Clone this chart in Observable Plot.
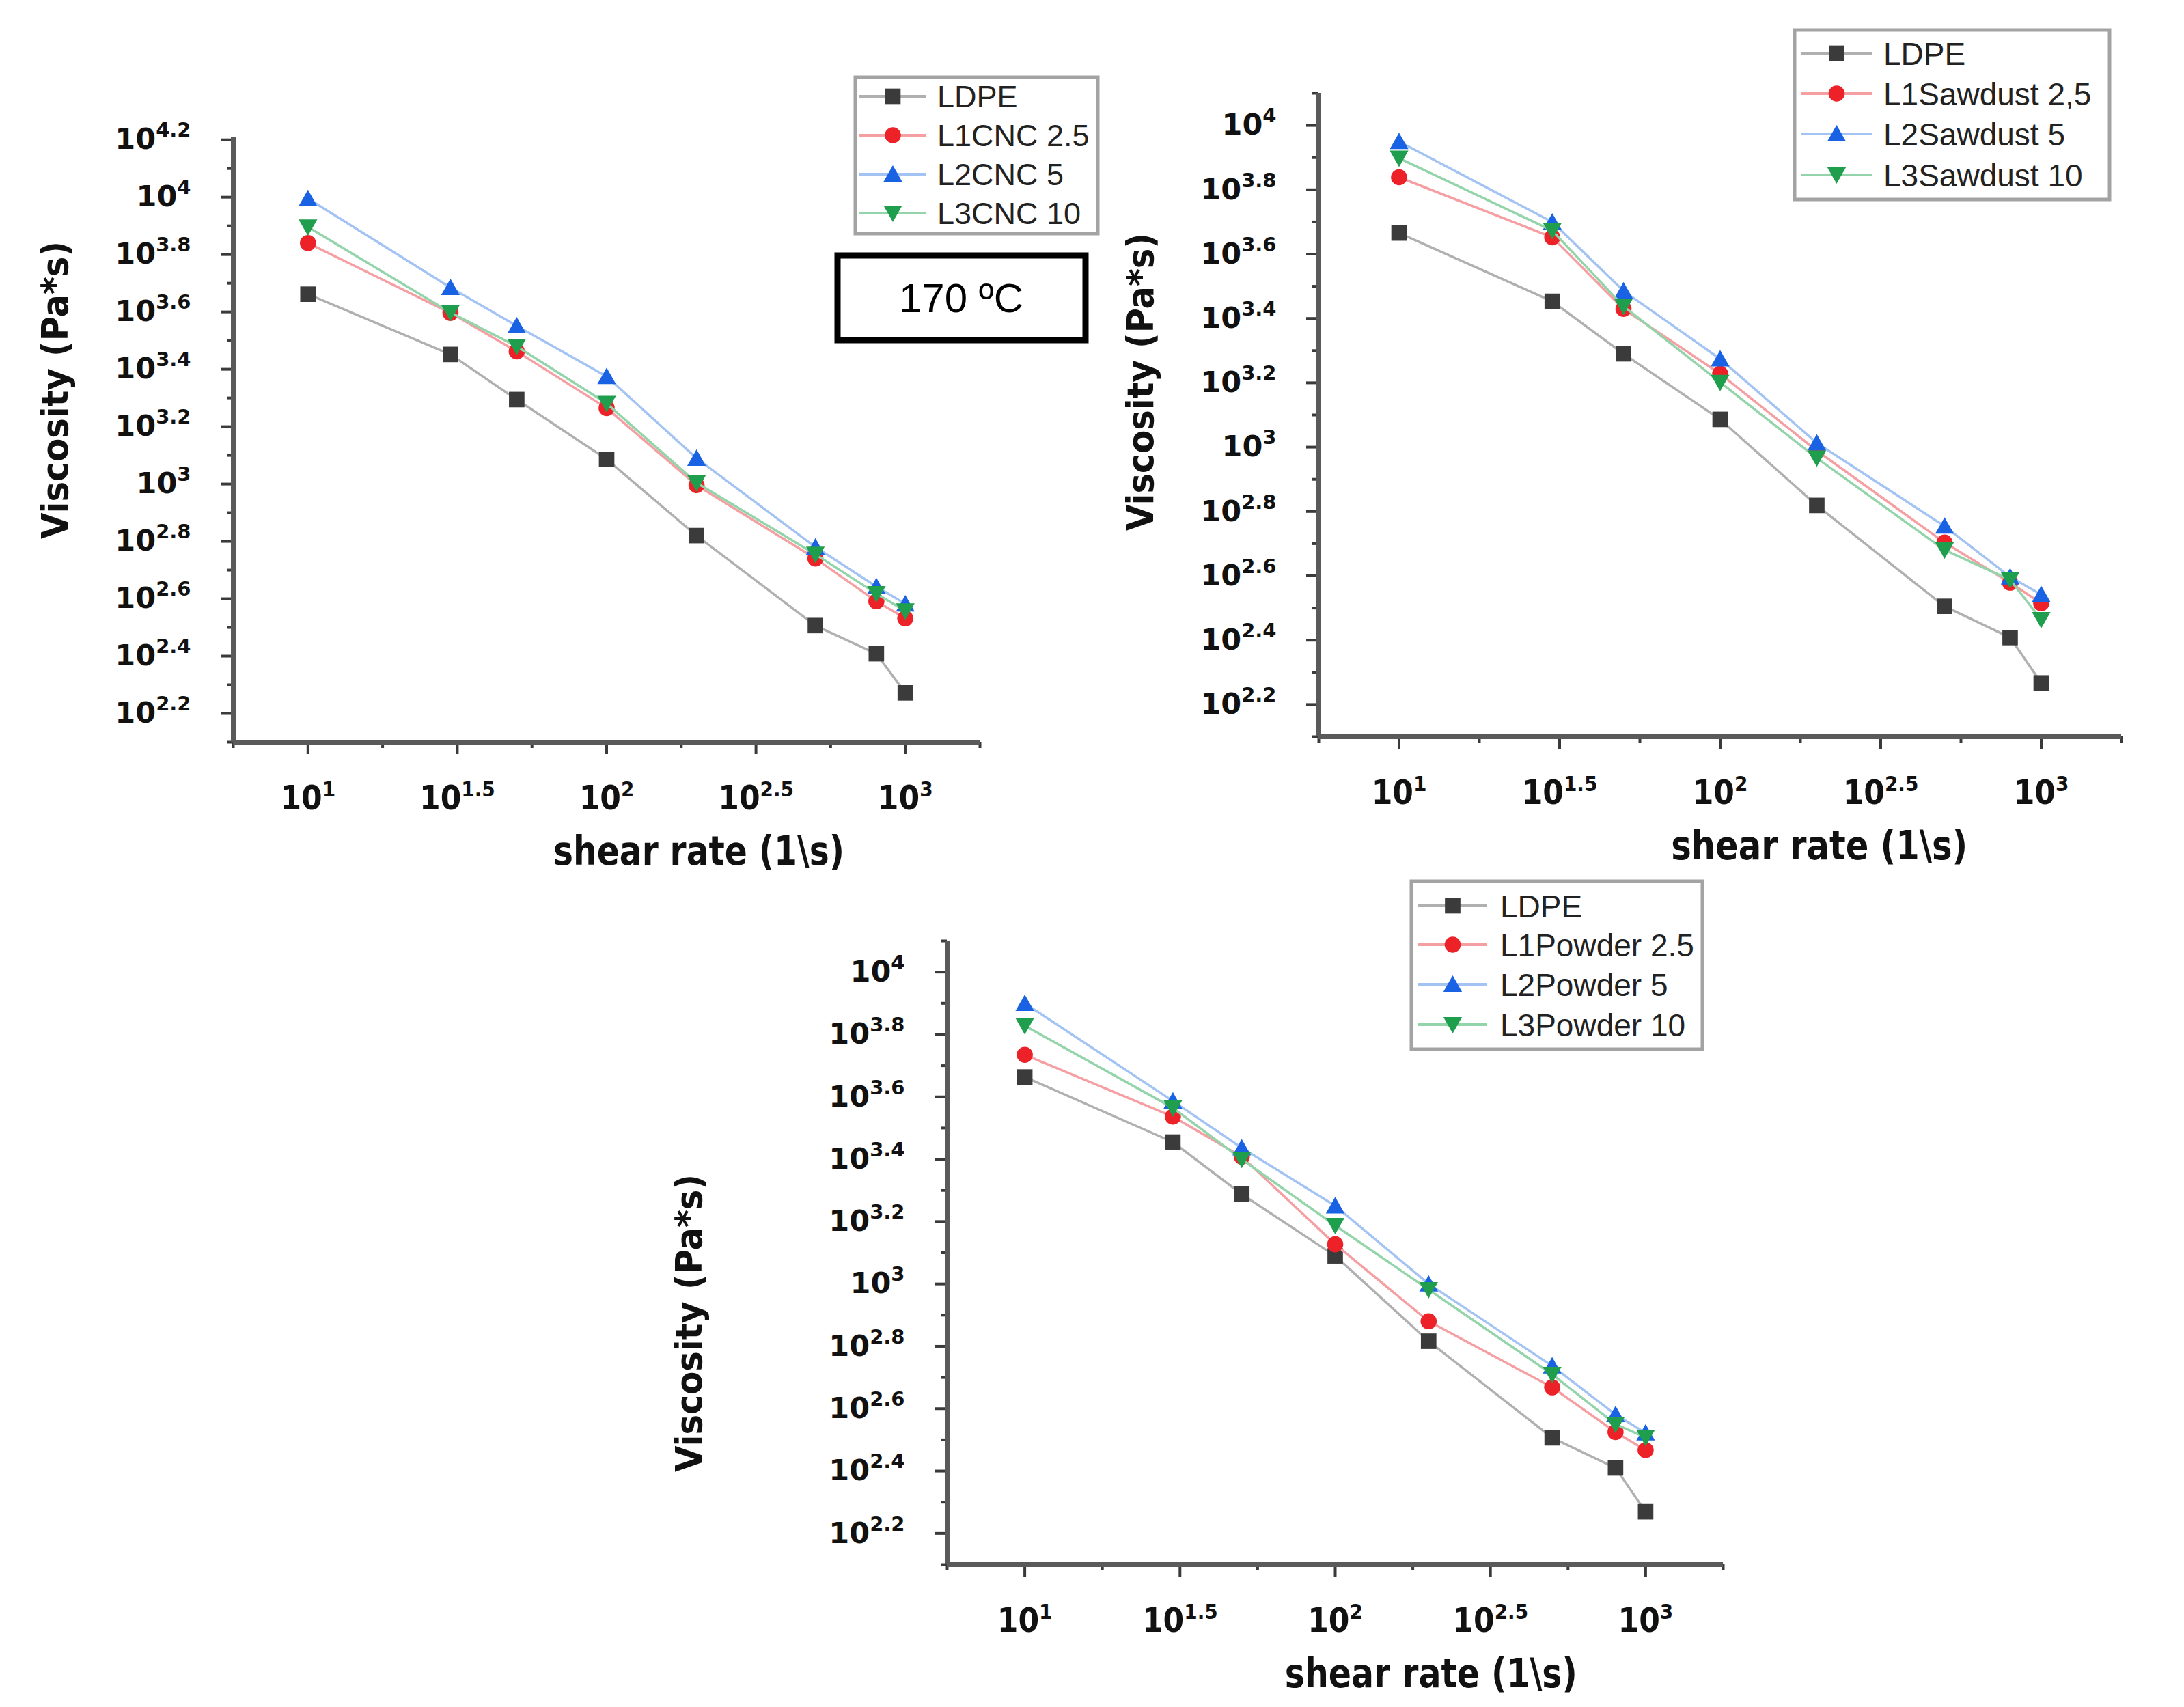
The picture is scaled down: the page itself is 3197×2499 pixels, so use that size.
<!DOCTYPE html>
<html>
<head>
<meta charset="utf-8">
<script src="https://cdn.jsdelivr.net/npm/d3@7"></script>
<script src="https://cdn.jsdelivr.net/npm/@observablehq/plot@0.6"></script>
<style>
html, body { margin: 0; padding: 0; background: #fff; }
#page { position: relative; width: 3197px; height: 2499px; background: #fff; overflow: hidden; }
#page svg { position: absolute; max-width: none; }
</style>
</head>
<body>
<div id="page"></div>
<script>
// ---------------- data ----------------
const shearRates = [10, 30, 50, 100, 200, 500, 800, 1000];

const cncNames = ["LDPE", "L1CNC 2.5", "L2CNC 5", "L3CNC 10"];
const cncLDPE = [4590, 2830, 1970, 1220, 661, 321, 256, 187];
const cncL1   = [6920, 3950, 2900, 1840, 991, 550, 390, 340];
const cncL2   = [9890, 4840, 3560, 2370, 1230, 603, 439, 382];
const cncL3   = [7870, 3960, 3020, 1910, 1010, 569, 415, 361];

const sawNames = ["LDPE", "L1Sawdust 2,5", "L2Sawdust 5", "L3Sawdust 10"];
const sawLDPE = [4630, 2840, 1950, 1220, 659, 320, 256, 185];
const sawL1   = [6900, 4490, 2690, 1690, 975, 505, 379, 327];
const sawL2   = [8910, 5010, 3060, 1880, 1030, 568, 395, 348];
const sawL3   = [7910, 4710, 2740, 1590, 925, 479, 387, 291];

const powNames = ["LDPE", "L1Powder 2.5", "L2Powder 5", "L3Powder 10"];
const powLDPE = [4610, 2850, 1940, 1230, 655, 321, 257, 186];
const powL1   = [5430, 3440, 2560, 1340, 759, 466, 335, 293];
const powL2   = [7940, 3860, 2730, 1780, 1000, 546, 381, 333];
const powL3   = [6730, 3670, 2510, 1540, 959, 513, 355, 322];

// tick positions are decades (log10 units)
const xTickExps   = [1, 1.5, 2, 2.5, 3];
const xTickLabels = ["10^1", "10^1.5", "10^2", "10^2.5", "10^3"];
const xMinorExps  = [0.75, 1.25, 1.75, 2.25, 2.75, 3.25];

const yTickExpsA   = [2.2, 2.4, 2.6, 2.8, 3, 3.2, 3.4, 3.6, 3.8, 4, 4.2];
const yTickLabelsA = ["10^2.2", "10^2.4", "10^2.6", "10^2.8", "10^3", "10^3.2", "10^3.4", "10^3.6", "10^3.8", "10^4", "10^4.2"];
const yTickExpsB   = [2.2, 2.4, 2.6, 2.8, 3, 3.2, 3.4, 3.6, 3.8, 4];
const yTickLabelsB = ["10^2.2", "10^2.4", "10^2.6", "10^2.8", "10^3", "10^3.2", "10^3.4", "10^3.6", "10^3.8", "10^4"];
const yMinorExps   = [2.1, 2.3, 2.5, 2.7, 2.9, 3.1, 3.3, 3.5, 3.7, 3.9, 4.1];

const tempLabel = "170 \u00BAC";
const xTitle = "shear rate (1\\s)";
const yTitle = "Viscosity (Pa*s)";

// ---------------- styles ----------------
const triUp = {
  draw(ctx, size) {
    const r = Math.sqrt(size / Math.PI);
    ctx.moveTo(0, -r * 1.0);
    ctx.lineTo(r * 1.05, r * 0.85);
    ctx.lineTo(-r * 1.05, r * 0.85);
    ctx.closePath();
  }
};
const triDown = {
  draw(ctx, size) {
    const r = Math.sqrt(size / Math.PI);
    ctx.moveTo(0, r * 1.0);
    ctx.lineTo(r * 1.05, -r * 0.85);
    ctx.lineTo(-r * 1.05, -r * 0.85);
    ctx.closePath();
  }
};
const seriesStyle = [
  {line: "#b0b0b0", fill: "#3b3b3b", symbol: "square", d3sym: d3.symbolSquare, r: 12.8},
  {line: "#f59fa3", fill: "#ec2228", symbol: "circle", d3sym: d3.symbolCircle, r: 11.8},
  {line: "#a3c3f3", fill: "#1862e3", symbol: triUp, d3sym: triUp, r: 13},
  {line: "#94d4aa", fill: "#1f9e4d", symbol: triDown, d3sym: triDown, r: 13}
];

const tickFont = "'DejaVu Sans', sans-serif";
const condFont = "'DejaVu Sans Condensed', 'DejaVu Sans', sans-serif";
const legendFont = "'Liberation Sans', Arial, sans-serif";

const page = document.getElementById("page");

function labelFor(ticks, labels) {
  return d => {
    const i = ticks.findIndex(t => Math.abs(t - d) < 1e-9);
    return i >= 0 ? labels[i] : "";
  };
}

function supify(svg, selector, supSize, dy) {
  d3.select(svg).selectAll(selector).each(function () {
    const s = this.textContent;
    const m = /^10\^(.+)$/.exec(s);
    if (!m) return;
    const t = d3.select(this);
    t.text(null);
    t.append("tspan").text("10");
    t.append("tspan").attr("font-size", supSize).attr("dy", dy).text(m[1]);
  });
}

function makeChart(cfg) {
  const data = [];
  cfg.values.forEach((vals, si) => vals.forEach((v, j) => data.push({series: cfg.names[si], idx: si, rate: shearRates[j], visc: v})));
  const xDom = [0.75, 3.25];
  const yDom = [2.1, cfg.yTop];
  const lx = d => Math.log10(d.rate);
  const ly = d => Math.log10(d.visc);

  const marks = [
    Plot.axisY({ticks: yMinorExps.filter(e => e <= cfg.yTop + 1e-9), tickSize: 9, tickFormat: () => "", stroke: "#3a3a3a", strokeWidth: 4, label: null}),
    Plot.axisY({ticks: cfg.yTicks, tickSize: 18, tickPadding: 44, tickFormat: labelFor(cfg.yTicks, cfg.yLabels),
      stroke: "#3a3a3a", strokeWidth: 4, fill: "#111", fontSize: 43, fontWeight: "bold", fontFamily: tickFont, label: null}),
    Plot.axisX({ticks: xMinorExps, tickSize: 9, tickFormat: () => "", stroke: "#3a3a3a", strokeWidth: 4, label: null}),
    Plot.axisX({ticks: xTickExps, tickSize: 18, tickPadding: 46, tickFormat: labelFor(xTickExps, xTickLabels),
      stroke: "#3a3a3a", strokeWidth: 4, fill: "#111", fontSize: 49, fontWeight: "bold", fontFamily: condFont, label: null}),
    Plot.ruleX([xDom[0]], {stroke: "#5a5a5a", strokeWidth: 7}),
    Plot.ruleY([yDom[0]], {stroke: "#5a5a5a", strokeWidth: 7})
  ];
  cfg.names.forEach((name, si) => {
    const st = seriesStyle[si];
    const d = data.filter(r => r.idx === si);
    marks.push(Plot.line(d, {x: lx, y: ly, stroke: st.line, strokeWidth: 3.5}));
    marks.push(Plot.dot(d, {x: lx, y: ly, symbol: st.symbol, r: st.r, fill: st.fill, stroke: "none"}));
  });

  const plot = Plot.plot({
    width: cfg.width, height: cfg.height,
    marginLeft: cfg.ml, marginRight: cfg.mr, marginTop: cfg.mt, marginBottom: cfg.mb,
    x: {type: "linear", domain: xDom, label: null},
    y: {type: "linear", domain: yDom, label: null},
    style: {background: "transparent", overflow: "visible", fontFamily: tickFont},
    marks
  });
  plot.style.left = cfg.left + "px";
  plot.style.top = cfg.top + "px";
  plot.style.maxWidth = "none";

  supify(plot, 'g[aria-label="y-axis tick label"] text', 29, -18);
  supify(plot, 'g[aria-label="x-axis tick label"] text', 31, -19);

  const svg = d3.select(plot);
  const xs = plot.scale("x");
  // x title
  svg.append("text")
    .attr("x", xs.apply(2.31))
    .attr("y", cfg.height - cfg.mb + 180)
    .attr("text-anchor", "middle")
    .attr("font-family", condFont).attr("font-weight", "bold").attr("font-size", 58)
    .attr("fill", "#111")
    .attr("textLength", cfg.xTitleLen).attr("lengthAdjust", "spacingAndGlyphs")
    .text(xTitle);
  // y title
  svg.append("text")
    .attr("transform", `translate(${cfg.yTitleX},${cfg.yTitleY}) rotate(-90)`)
    .attr("text-anchor", "middle")
    .attr("dy", "0.36em")
    .attr("font-family", condFont).attr("font-weight", "bold").attr("font-size", 54)
    .attr("fill", "#111")
    .attr("textLength", 436).attr("lengthAdjust", "spacingAndGlyphs")
    .text(yTitle);
  page.appendChild(plot);
}

makeChart({
  names: cncNames, values: [cncLDPE, cncL1, cncL2, cncL3],
  yTicks: yTickExpsA, yLabels: yTickLabelsA, yTop: 4.21,
  left: 0, top: 0, width: 1520, height: 1320, ml: 341, mr: 86, mt: 200, mb: 234,
  yTitleX: 80, yTitleY: 571, xTitleLen: 426
});
makeChart({
  names: sawNames, values: [sawLDPE, sawL1, sawL2, sawL3],
  yTicks: yTickExpsB, yLabels: yTickLabelsB, yTop: 4.10,
  left: 1600, top: 0, width: 1597, height: 1320, ml: 330, mr: 92, mt: 136, mb: 242,
  yTitleX: 69, yTitleY: 559, xTitleLen: 434
});
makeChart({
  names: powNames, values: [powLDPE, powL1, powL2, powL3],
  yTicks: yTickExpsB, yLabels: yTickLabelsB, yTop: 4.10,
  left: 950, top: 1300, width: 1700, height: 1199, ml: 436, mr: 128, mt: 77, mb: 209,
  yTitleX: 58, yTitleY: 637, xTitleLen: 428
});

// ---------------- overlay: legends and temperature box ----------------
const overlay = d3.select(page).append("svg")
  .attr("width", 3197).attr("height", 2499)
  .style("left", "0px").style("top", "0px").style("pointer-events", "none");

function drawLegend(cfg) {
  const g = overlay.append("g");
  g.append("rect")
    .attr("x", cfg.box[0]).attr("y", cfg.box[1])
    .attr("width", cfg.box[2] - cfg.box[0]).attr("height", cfg.box[3] - cfg.box[1])
    .attr("fill", "#fff").attr("stroke", "#a3a3a3").attr("stroke-width", 5);
  cfg.names.forEach((name, i) => {
    const st = seriesStyle[i];
    const y = cfg.rows[i];
    g.append("line").attr("x1", cfg.lineX[0]).attr("x2", cfg.lineX[1]).attr("y1", y).attr("y2", y)
      .attr("stroke", st.line).attr("stroke-width", 4);
    g.append("path")
      .attr("transform", `translate(${(cfg.lineX[0] + cfg.lineX[1]) / 2},${y})`)
      .attr("d", d3.symbol().type(st.d3sym).size(Math.PI * st.r * st.r)())
      .attr("fill", st.fill);
    g.append("text").attr("x", cfg.textX).attr("y", y).attr("dy", "0.36em")
      .attr("font-family", legendFont).attr("font-size", cfg.fontSize).attr("fill", "#222")
      .text(name);
  });
}

drawLegend({names: cncNames, box: [1252, 113, 1607, 342], rows: [141, 198, 255, 312], lineX: [1258, 1356], textX: 1372, fontSize: 45});
drawLegend({names: sawNames, box: [2627, 44, 3088, 292], rows: [78, 137, 196, 256], lineX: [2637, 2740], textX: 2757, fontSize: 46});
drawLegend({names: powNames, box: [2066, 1290, 2492, 1536], rows: [1326, 1383, 1441, 1500], lineX: [2076, 2177], textX: 2196, fontSize: 46});

overlay.append("rect")
  .attr("x", 1226).attr("y", 374).attr("width", 363).attr("height", 124)
  .attr("fill", "#fff").attr("stroke", "#000").attr("stroke-width", 9);
overlay.append("text")
  .attr("x", 1407).attr("y", 457).attr("text-anchor", "middle")
  .attr("font-family", legendFont).attr("font-size", 60).attr("fill", "#000")
  .text(tempLabel);
</script>
</body>
</html>
